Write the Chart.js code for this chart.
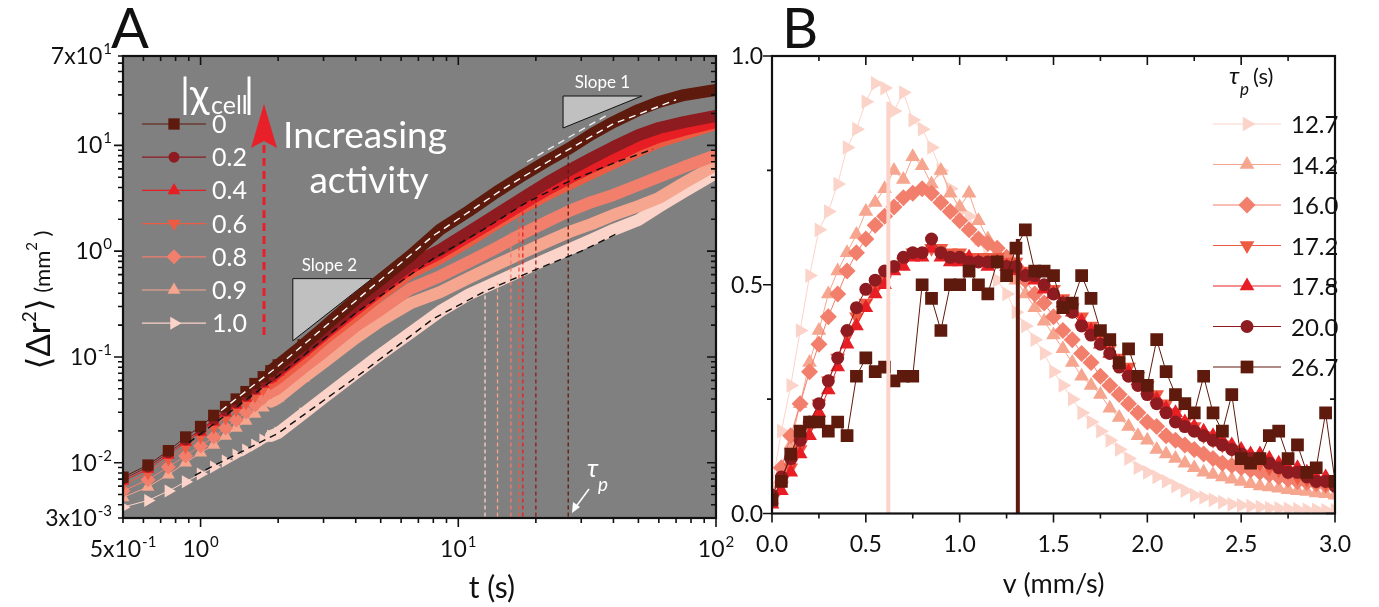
<!DOCTYPE html>
<html>
<head>
<meta charset="utf-8">
<script src="https://cdn.jsdelivr.net/npm/chart.js"></script>
<style>
  html, body { margin: 0; padding: 0; background: #fff; }
  #wrap { position: relative; width: 1379px; height: 607px; overflow: hidden; }
  canvas { position: absolute; top: 0; }
  #cA { left: 0; }
  #cB { left: 720px; }
</style>
</head>
<body>
<div id="wrap">
  <canvas id="cA" width="760" height="607"></canvas>
  <canvas id="cB" width="659" height="607"></canvas>
</div>
<script>
// ---------- panel A : mean squared displacement ----------
const tA = [0.5,0.625,0.75,0.875,1,1.125,1.25,1.375,1.5,1.625,1.75,1.875,2,2.5,3,4,5,6.5,8.5,11,14,18,22,27,33,40,50,60,75,100];
const chiLabels = ['0','0.2','0.4','0.6','0.8','0.9','1.0'];
const msdChi0  = [0.0073,0.0095,0.013,0.0175,0.022,0.028,0.034,0.040,0.047,0.056,0.065,0.074,0.084,0.13,0.19,0.35,0.54,0.90,1.6,2.4,3.6,5.3,7.1,9.4,12.8,16.6,21.6,25.7,29.9,33.4];
const msdChi02 = [0.0070,0.0091,0.0124,0.0164,0.0204,0.0254,0.0309,0.0367,0.0428,0.0498,0.058,0.0661,0.0753,0.116,0.168,0.30,0.46,0.74,1.03,1.52,2.20,3.25,4.41,5.85,7.60,9.66,12.5,14.6,16.6,19.0];
const msdChi04 = [0.0067,0.0087,0.0118,0.0157,0.0195,0.0243,0.0296,0.0352,0.041,0.0477,0.0556,0.0633,0.0722,0.111,0.161,0.28,0.43,0.69,0.96,1.39,1.97,2.85,3.79,4.92,6.25,7.77,10.1,12.0,14.0,16.6];
const msdChi06 = [0.0062,0.008,0.0109,0.0141,0.0175,0.0218,0.0265,0.0316,0.0367,0.0428,0.0498,0.0568,0.0633,0.098,0.145,0.25,0.39,0.62,0.86,1.25,1.81,2.62,3.40,4.32,5.48,6.82,8.85,10.8,12.8,15.9];
const msdChi08 = [0.0054,0.0069,0.0091,0.0116,0.0144,0.0175,0.0213,0.0254,0.0302,0.0352,0.041,0.0467,0.0509,0.0787,0.111,0.196,0.28,0.44,0.58,0.79,1.07,1.49,1.89,2.40,2.92,3.40,4.22,5.03,6.25,8.11];
const msdChi09 = [0.0047,0.0059,0.0077,0.010,0.0124,0.0147,0.0179,0.0213,0.0248,0.0289,0.033,0.0376,0.041,0.0633,0.088,0.151,0.22,0.32,0.41,0.56,0.74,0.98,1.22,1.52,1.81,2.20,2.67,3.18,4.41,6.53];
const msdChi10 = [0.0038,0.0044,0.0054,0.0066,0.0078,0.0091,0.0104,0.0118,0.0132,0.0147,0.0164,0.0179,0.0191,0.029,0.041,0.070,0.106,0.168,0.27,0.39,0.51,0.67,0.84,1.04,1.29,1.59,1.97,2.62,3.63,5.48];
const msdSeries = [msdChi0, msdChi02, msdChi04, msdChi06, msdChi08, msdChi09, msdChi10];

// persistence times marked by the vertical dashed lines
const tauP   = [26.7, 20.0, 17.8, 17.2, 16.0, 14.2, 12.7];
const tauTop = [9.0, 3.2, 2.5, 2.2, 1.5, 0.5, 0.5];

// model fits (dashed)
const fitT0 = [1.2, 2, 4, 8, 15, 25, 40, 70];
const fitY0 = [0.031, 0.082, 0.34, 1.4, 3.9, 8.3, 16, 27];
const fitT1 = [0.9, 2, 4, 8, 12.5, 18, 26, 40, 57];
const fitY1 = [0.0155, 0.066, 0.26, 0.85, 1.6, 2.8, 4.4, 6.8, 9.2];
const fitT2 = [0.95, 2, 4, 8, 13, 20, 30, 41];
const fitY2 = [0.0076, 0.019, 0.064, 0.23, 0.43, 0.67, 1.0, 1.45];
const fitT3 = [18.5, 37.8];
const fitY3 = [7.0, 19.4];

// slope guides
const slope2Tri = { x: [2.28, 4.63], y: [0.142, 0.55] };
const slope1Tri = { x: [25.5, 51.6], y: [14.6, 29.3] };

// axis labels
const xTickA = [0.5, 1, 10, 100];
const xTickABase = ['5x10', '10', '10', '10'];
const xTickAExp = ['-1', '0', '1', '2'];
const yTickA = [0.003, 0.01, 0.1, 1, 10, 70];
const yTickABase = ['3x10', '10', '10', '10', '10', '7x10'];
const yTickAExp = ['-3', '-2', '-1', '0', '1', '1'];

// ---------- panel B : speed distributions ----------
const vB = [0,0.05,0.1,0.15,0.2,0.25,0.3,0.35,0.4,0.45,0.5,0.55,0.6,0.65,0.7,0.75,0.8,0.85,0.9,0.95,1.0,1.05,1.1,1.15,1.2,1.25,1.3,1.35,1.4,1.45,1.5,1.55,1.6,1.65,1.7,1.75,1.8,1.85,1.9,1.95,2.0,2.05,2.1,2.15,2.2,2.25,2.3,2.35,2.4,2.45,2.5,2.55,2.6,2.65,2.7,2.75,2.8,2.85,2.9,2.95,3.0];
const tauLabels = ['12.7', '14.2', '16.0', '17.2', '17.8', '20.0', '26.7'];
const pv127 = [.06,.18,.28,.40,.52,.62,.66,.72,.80,.84,.90,.94,.93,.88,.92,.86,.84,.80,.75,.71,.66,.65,.60,.56,.51,.48,.44,.41,.38,.35,.31,.28,.25,.22,.20,.18,.16,.14,.12,.10,.09,.08,.07,.06,.05,.04,.035,.03,.025,.02,.018,.016,.014,.012,.011,.010,.009,.008,.008,.007,.007];
const pv142 = [.03,.08,.15,.24,.33,.40,.48,.53,.57,.61,.66,.68,.71,.75,.73,.78,.76,.72,.75,.70,.67,.70,.64,.60,.57,.54,.51,.48,.45,.42,.39,.36,.33,.30,.28,.26,.23,.21,.19,.17,.16,.14,.13,.12,.11,.10,.09,.085,.08,.075,.07,.065,.06,.058,.055,.052,.05,.048,.045,.043,.04];
const pv160 = [.04,.10,.17,.24,.31,.37,.43,.48,.53,.57,.60,.63,.65,.67,.69,.70,.71,.70,.68,.66,.64,.62,.60,.59,.58,.56,.54,.51,.48,.46,.43,.40,.38,.35,.33,.30,.28,.26,.24,.22,.20,.19,.17,.16,.15,.14,.13,.12,.11,.105,.10,.095,.09,.085,.08,.075,.07,.068,.065,.062,.06];
const pv172 = [.03,.06,.10,.14,.19,.24,.29,.34,.39,.43,.46,.49,.51,.54,.55,.57,.57,.58,.58,.57,.57,.56,.56,.56,.56,.55,.55,.53,.52,.50,.49,.47,.45,.43,.41,.38,.36,.34,.32,.30,.28,.26,.24,.22,.20,.19,.17,.16,.15,.14,.13,.12,.11,.10,.095,.09,.08,.075,.07,.065,.06];
const pv178 = [.02,.05,.09,.13,.17,.22,.27,.32,.37,.41,.45,.48,.50,.53,.54,.56,.56,.58,.56,.55,.55,.56,.55,.54,.55,.54,.53,.52,.51,.49,.48,.46,.44,.42,.40,.37,.35,.33,.31,.29,.27,.25,.23,.22,.20,.19,.18,.17,.16,.15,.14,.13,.13,.12,.11,.10,.10,.09,.08,.08,.07];
const pv200 = [.04,.08,.12,.16,.20,.24,.29,.34,.40,.45,.49,.51,.53,.54,.56,.57,.57,.60,.57,.56,.56,.55,.55,.55,.55,.54,.54,.52,.52,.50,.48,.46,.44,.41,.39,.37,.35,.32,.30,.28,.26,.24,.22,.20,.19,.18,.17,.16,.15,.14,.13,.12,.12,.11,.10,.09,.09,.08,.07,.07,.06];
const pv267 = [.03,.07,.13,.18,.20,.20,.18,.20,.17,.30,.34,.31,.32,.29,.30,.30,.50,.47,.40,.50,.50,.53,.50,.48,.55,.52,.58,.62,.53,.53,.52,.45,.46,.52,.47,.40,.38,.33,.36,.30,.28,.38,.31,.26,.24,.22,.30,.22,.18,.26,.12,.11,.12,.17,.18,.12,.15,.09,.10,.22,.07];
const pvSeries = [pv127, pv142, pv160, pv172, pv178, pv200, pv267];
const meanV = [0.62, 1.31];
const meanTop = [0.9, 0.6];

// ---------- styling ----------
const FONT = "Lato, 'Noto Sans', 'DejaVu Sans', sans-serif";
const shades = ['#5e1a0c', '#8d1b20', '#e81e25', '#ee5b43', '#f27e6c', '#f6a58e', '#fcd3c8'];
const marks = [
  { s: 'rect', r: 8, rot: 0 },
  { s: 'circle', r: 5.5, rot: 0 },
  { s: 'triangle', r: 7.5, rot: 0 },
  { s: 'triangle', r: 7.5, rot: 180 },
  { s: 'rectRot', r: 7.5, rot: 0 },
  { s: 'triangle', r: 7.5, rot: 0 },
  { s: 'triangle', r: 7.5, rot: 90 }
];
const marksBig = marks.map(m => ({ s: m.s, rot: m.rot, r: m.r + 1 }));

function drawMark(ctx, m, x, y, color) {
  ctx.save();
  ctx.fillStyle = color; ctx.strokeStyle = color;
  Chart.helpers.drawPoint(ctx, { pointStyle: m.s, rotation: m.rot, radius: m.r, borderWidth: 0 }, x, y);
  ctx.restore();
}

function supText(ctx, base, exp, x, y, align, fb, fe, rise) {
  ctx.font = fb; const wb = ctx.measureText(base).width;
  ctx.font = fe; const we = ctx.measureText(exp).width;
  const w = wb + we + 1;
  const x0 = align === 'right' ? x - w : align === 'center' ? x - w / 2 : x;
  ctx.textAlign = 'left';
  ctx.font = fb; ctx.fillText(base, x0, y);
  ctx.font = fe; ctx.fillText(exp, x0 + wb + 1, y - rise);
}

function logTicks(min, max) {
  const out = [];
  for (let e = Math.floor(Math.log10(min)); e <= Math.ceil(Math.log10(max)); e++) {
    for (let k = 1; k < 10; k++) {
      const v = k * Math.pow(10, e);
      if (v >= min * 0.999 && v <= max * 1.001) out.push([v, k === 1]);
    }
  }
  return out;
}

function frameTicks(chart, xt, yt) {
  const { ctx, chartArea: a, scales } = chart;
  ctx.save();
  ctx.strokeStyle = '#111'; ctx.lineWidth = 1.6;
  ctx.beginPath();
  xt.forEach(([v, maj]) => {
    const p = scales.x.getPixelForValue(v), L = maj ? 9 : 5;
    ctx.moveTo(p, a.bottom); ctx.lineTo(p, a.bottom + L);
    ctx.moveTo(p, a.top); ctx.lineTo(p, a.top + L);
  });
  yt.forEach(([v, maj]) => {
    const p = scales.y.getPixelForValue(v), L = maj ? 9 : 5;
    ctx.moveTo(a.left - L, p); ctx.lineTo(a.left, p);
    ctx.moveTo(a.right - L, p); ctx.lineTo(a.right, p);
  });
  ctx.stroke();
  ctx.lineWidth = 2.2;
  ctx.strokeRect(a.left, a.top, a.right - a.left, a.bottom - a.top);
  ctx.restore();
}

// ---------- chart A ----------
const panelA = {
  id: 'panelA',
  beforeDraw(chart) {
    const { ctx, chartArea: a } = chart;
    ctx.save();
    ctx.fillStyle = '#808080';
    ctx.fillRect(a.left, a.top, a.right - a.left, a.bottom - a.top);
    ctx.restore();
  },
  beforeDatasetsDraw(chart) {
    const { ctx, scales: { x, y } } = chart;
    ctx.save();
    ctx.fillStyle = '#c0c0c0'; ctx.strokeStyle = '#111'; ctx.lineWidth = 1;
    [slope2Tri, slope1Tri].forEach(t => {
      ctx.beginPath();
      ctx.moveTo(x.getPixelForValue(t.x[0]), y.getPixelForValue(t.y[1]));
      ctx.lineTo(x.getPixelForValue(t.x[1]), y.getPixelForValue(t.y[1]));
      ctx.lineTo(x.getPixelForValue(t.x[0]), y.getPixelForValue(t.y[0]));
      ctx.closePath(); ctx.fill(); ctx.stroke();
    });
    ctx.restore();
  },
  afterDatasetsDraw(chart) {
    const { ctx, chartArea: a, scales: { x, y } } = chart;
    frameTicks(chart, logTicks(0.5, 100), logTicks(0.003, 70));
    ctx.save();
    ctx.fillStyle = '#111'; ctx.textBaseline = 'alphabetic';
    const fb = '23px ' + FONT, fe = '15px ' + FONT;
    xTickA.forEach((v, i) => supText(ctx, xTickABase[i], xTickAExp[i], x.getPixelForValue(v), a.bottom + 39, 'center', fb, fe, 10));
    yTickA.forEach((v, i) => supText(ctx, yTickABase[i], yTickAExp[i], a.left - 11, y.getPixelForValue(v) + 8, 'right', fb, fe, 10));

    // axis titles
    ctx.font = '30px ' + FONT; ctx.textAlign = 'center';
    ctx.fillText('t (s)', x.getPixelForValue(13.5), 598);
    ctx.save();
    ctx.translate(50, 300); ctx.rotate(-Math.PI / 2);
    const parts = [['⟨Δr', '33px', 0], ['2', '19px', 14], ['⟩', '33px', 0], [' (mm', '22px', 0], ['2', '15px', 13], [' )', '22px', 0]];
    let w = 0;
    parts.forEach(p => { ctx.font = p[1] + ' ' + FONT; w += ctx.measureText(p[0]).width; });
    let cx = -w / 2; ctx.textAlign = 'left';
    parts.forEach(p => { ctx.font = p[1] + ' ' + FONT; ctx.fillText(p[0], cx, -p[2]); cx += ctx.measureText(p[0]).width; });
    ctx.restore();

    // panel letter
    ctx.font = '56px ' + FONT; ctx.textAlign = 'left';
    ctx.fillText('A', 111, 48);

    // legend inside
    ctx.fillStyle = '#fff';
    ctx.font = '40px ' + FONT; ctx.fillText('|χ', 180, 108);
    ctx.font = '25px ' + FONT; ctx.fillText('cell', 211, 114);
    ctx.font = '40px ' + FONT; ctx.fillText('|', 244, 108);
    chiLabels.forEach((lab, i) => {
      const yy = 124 + i * 33.2;
      ctx.strokeStyle = shades[i]; ctx.lineWidth = 1.2;
      ctx.beginPath(); ctx.moveTo(142, yy); ctx.lineTo(206, yy); ctx.stroke();
      drawMark(ctx, marks[i], 174, yy, shades[i]);
      ctx.fillStyle = '#fff'; ctx.font = '25px ' + FONT; ctx.textAlign = 'left';
      ctx.fillText(lab, 212, yy + 9);
    });

    // increasing activity arrow
    ctx.strokeStyle = '#e8202a'; ctx.lineWidth = 3; ctx.setLineDash([8, 5]);
    ctx.beginPath(); ctx.moveTo(264, 335); ctx.lineTo(264, 140); ctx.stroke();
    ctx.setLineDash([]);
    ctx.fillStyle = '#e8202a';
    ctx.beginPath(); ctx.moveTo(264, 104); ctx.lineTo(277, 148); ctx.lineTo(264, 141); ctx.lineTo(251, 148); ctx.closePath(); ctx.fill();
    ctx.fillStyle = '#fff'; ctx.font = '37px ' + FONT; ctx.textAlign = 'center';
    ctx.fillText('Increasing', 365, 148);
    ctx.fillText('activity', 369, 193);

    // slope labels
    ctx.font = '17px ' + FONT;
    ctx.fillText('Slope 2', (x.getPixelForValue(slope2Tri.x[0]) + x.getPixelForValue(slope2Tri.x[1])) / 2 - 3, y.getPixelForValue(slope2Tri.y[1]) - 8);
    ctx.fillText('Slope 1', (x.getPixelForValue(slope1Tri.x[0]) + x.getPixelForValue(slope1Tri.x[1])) / 2, y.getPixelForValue(slope1Tri.y[1]) - 8);

    // tau_p annotation
    ctx.font = 'italic 26px ' + FONT; ctx.textAlign = 'left';
    ctx.fillText('τ', 587, 477);
    ctx.font = 'italic 19px ' + FONT;
    ctx.fillText('p', 598, 491);
    ctx.strokeStyle = '#fff'; ctx.lineWidth = 1.5;
    ctx.beginPath(); ctx.moveTo(589, 489); ctx.lineTo(575, 508); ctx.stroke();
    ctx.beginPath(); ctx.moveTo(572, 513); ctx.lineTo(573, 502); ctx.lineTo(580, 507); ctx.closePath(); ctx.fill();
    ctx.restore();
  }
};

const dsA = [];
dsA.push({ data: fitT0.map((t, k) => ({ x: t, y: fitY0[k] })), borderColor: '#ffffff', borderWidth: 1.4, borderDash: [7, 5], pointRadius: 0, order: 1 });
dsA.push({ data: fitT1.map((t, k) => ({ x: t, y: fitY1[k] })), borderColor: '#111', borderWidth: 1.4, borderDash: [7, 5], pointRadius: 0, order: 1 });
dsA.push({ data: fitT2.map((t, k) => ({ x: t, y: fitY2[k] })), borderColor: '#111', borderWidth: 1.4, borderDash: [7, 5], pointRadius: 0, order: 1 });
dsA.push({ data: fitT3.map((t, k) => ({ x: t, y: fitY3[k] })), borderColor: '#eeeeee', borderWidth: 1.4, borderDash: [7, 5], pointRadius: 0, order: 1 });
tauP.forEach((tp, i) => {
  dsA.push({ data: [{ x: tp, y: 0.0031 }, { x: tp, y: tauTop[i] }], borderColor: shades[i], borderWidth: 1.3, borderDash: [4, 3], pointRadius: 0, order: 2 });
});
msdSeries.forEach((s, i) => {
  dsA.push({
    label: chiLabels[i],
    data: tA.map((t, k) => ({ x: t, y: s[k] })),
    borderColor: shades[i], backgroundColor: shades[i],
    pointStyle: marks[i].s, pointRotation: marks[i].rot,
    pointRadius: c => (tA[c.dataIndex] <= 2.5 ? marks[i].r : 0),
    pointBorderWidth: 0,
    borderWidth: 1,
    borderJoinStyle: 'round', borderCapStyle: 'round',
    segment: { borderWidth: c => (tA[c.p0DataIndex] >= 1.875 ? 12 : 1) },
    order: 10 + i
  });
});

new Chart(document.getElementById('cA').getContext('2d'), {
  type: 'line',
  data: { datasets: dsA },
  options: {
    responsive: false, animation: false, events: [], devicePixelRatio: 1,
    layout: { padding: { left: 123, top: 56, right: 44, bottom: 89 } },
    plugins: { legend: { display: false }, tooltip: { enabled: false } },
    scales: {
      x: { type: 'logarithmic', min: 0.5, max: 100, display: false },
      y: { type: 'logarithmic', min: 0.003, max: 70, display: false }
    }
  },
  plugins: [panelA]
});

// ---------- chart B ----------
const shadesB = shades.slice().reverse();
const marksB = marksBig.slice().reverse();

const panelB = {
  id: 'panelB',
  afterDatasetsDraw(chart) {
    const { ctx, chartArea: a, scales: { x, y } } = chart;
    const xt = [], yt = [];
    for (let k = 0; k <= 12; k++) xt.push([k * 0.25, k % 2 === 0]);
    for (let k = 0; k <= 4; k++) yt.push([k * 0.25, k % 2 === 0]);
    frameTicks(chart, xt, yt);
    ctx.save();
    ctx.fillStyle = '#111'; ctx.font = '23px ' + FONT; ctx.textAlign = 'center';
    for (let k = 0; k <= 6; k++) ctx.fillText((k * 0.5).toFixed(1), x.getPixelForValue(k * 0.5), a.bottom + 38);
    ctx.textAlign = 'right';
    for (let k = 0; k <= 2; k++) ctx.fillText((k * 0.5).toFixed(1), a.left - 9, y.getPixelForValue(k * 0.5) + 8);
    ctx.textAlign = 'center'; ctx.font = '27px ' + FONT;
    ctx.fillText('v (mm/s)', x.getPixelForValue(1.5), 593);
    ctx.textAlign = 'left'; ctx.font = '56px ' + FONT;
    ctx.fillText('B', 62, 48);

    // legend
    ctx.font = 'italic 24px ' + FONT; ctx.fillText('τ', 509, 84);
    ctx.font = 'italic 17px ' + FONT; ctx.fillText('p', 520, 95);
    ctx.font = '22px ' + FONT; ctx.fillText('(s)', 533, 84);
    tauLabels.forEach((lab, i) => {
      const yy = 124 + i * 40.5;
      ctx.strokeStyle = shadesB[i]; ctx.lineWidth = 1.2;
      ctx.beginPath(); ctx.moveTo(493, yy); ctx.lineTo(561, yy); ctx.stroke();
      drawMark(ctx, marksB[i], 527, yy, shadesB[i]);
      ctx.fillStyle = '#111'; ctx.font = '24px ' + FONT;
      ctx.fillText(lab, 571, yy + 9);
    });
    ctx.restore();
  }
};

const dsB = [];
meanV.forEach((v, i) => {
  dsB.push({ data: [{ x: v, y: 0 }, { x: v, y: meanTop[i] }], borderColor: i === 0 ? shades[6] : shades[0], borderWidth: 4, pointRadius: 0, order: 0 });
});
pvSeries.forEach((s, i) => {
  dsB.push({
    label: tauLabels[i],
    data: vB.map((v, k) => ({ x: v, y: s[k] })),
    borderColor: shadesB[i], backgroundColor: shadesB[i],
    pointStyle: marksB[i].s, pointRotation: marksB[i].rot,
    pointRadius: marksB[i].r, pointBorderWidth: 0,
    borderWidth: 1,
    order: 10 - i
  });
});

new Chart(document.getElementById('cB').getContext('2d'), {
  type: 'line',
  data: { datasets: dsB },
  options: {
    responsive: false, animation: false, events: [], devicePixelRatio: 1,
    layout: { padding: { left: 52, top: 56, right: 44, bottom: 93.5 } },
    plugins: { legend: { display: false }, tooltip: { enabled: false } },
    scales: {
      x: { type: 'linear', min: 0, max: 3, display: false },
      y: { type: 'linear', min: 0, max: 1, display: false }
    }
  },
  plugins: [panelB]
});
</script>
</body>
</html>
